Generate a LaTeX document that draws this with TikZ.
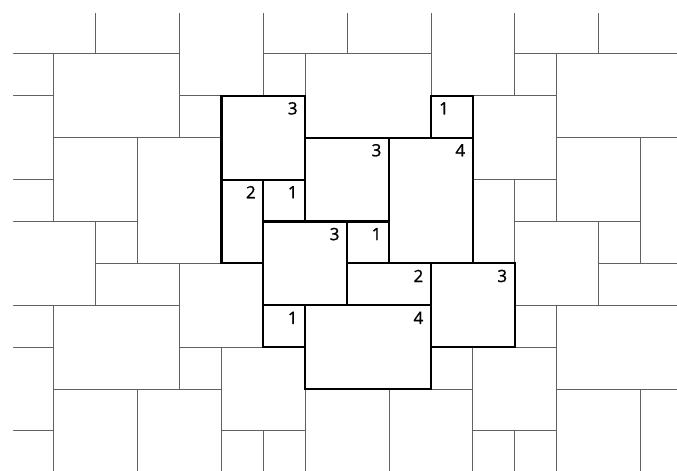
\documentclass[tikz,border=0pt]{standalone}
\usepackage{fontspec}
\setmainfont{Open Sans}
\newfontfamily\lblfont[FakeBold=1.2]{Open Sans}
\begin{document}
\begin{tikzpicture}[x=1cm,y=-1cm,
  thintile/.style={draw=black!62, line width=0.68pt},
  boldtile/.style={draw=black, line width=1.4pt, line join=miter},
  lbl/.style={font=\lblfont\fontsize{11.5}{12}\selectfont, inner sep=0pt}]
\useasboundingbox (-0.2864,-0.2864) rectangle (15.871,10.931);
\begin{scope}
\clip (0.03,0.03) rectangle (15.871,10.931);
\foreach \a in {-2,...,2}{\foreach \b in {-2,...,2}{
  \begin{scope}[shift={(6*\a,6*\b)}]
  \foreach \x/\y/\w/\h in {5/2/2/2, 10/2/1/1, 7/3/2/2, 9/3/2/3, 5/4/1/2, 6/4/1/1,
                           6/5/2/2, 8/5/1/1, 8/6/2/1, 10/6/2/2, 6/7/1/1, 7/7/3/2}
    \draw[thintile] (\x,\y) rectangle ++(\w,\h);
  \end{scope}
}}
\end{scope}
% central bold tiles
\foreach \x/\y/\w/\h in {5/2/2/2, 10/2/1/1, 7/3/2/2, 9/3/2/3, 5/4/1/2, 6/4/1/1,
                         6/5/2/2, 8/5/1/1, 8/6/2/1, 10/6/2/2, 6/7/1/1, 7/7/3/2}
  \draw[boldtile] (\x,\y) rectangle ++(\w,\h);
% labels
\node[lbl] (lA) at (6.7,2.3) {3};
\node[lbl] (lB) at (10.31,2.3) {1};
\node[lbl] (lC) at (8.7,3.3) {3};
\node[lbl] (lD) at (10.7,3.3) {4};
\node[lbl] (lE) at (5.7,4.3) {2};
\node[lbl] (lF) at (6.7,4.3) {1};
\node[lbl] (lG) at (7.7,5.3) {3};
\node[lbl] (lH) at (8.7,5.3) {1};
\node[lbl] (lI) at (9.7,6.3) {2};
\node[lbl] (lJ) at (11.7,6.3) {3};
\node[lbl] (lK) at (6.7,7.3) {1};
\node[lbl] (lL) at (9.7,7.3) {4};
\end{tikzpicture}
\end{document}
